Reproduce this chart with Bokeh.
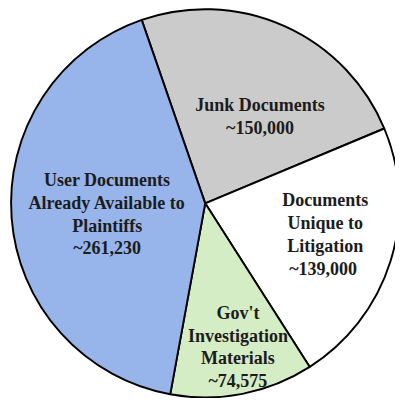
import math
from bokeh.plotting import figure
from bokeh.models import Range1d, ColumnDataSource
from bokeh.core.properties import value
from bokeh.embed import file_html
from bokeh.resources import INLINE

# ---- data ----
categories = ["Junk Documents", "Documents Unique to Litigation",
              "Gov't Investigation Materials", "User Documents Already Available to Plaintiffs"]
counts = [150000, 139000, 74575, 261230]
colors = ["#CBCBCB", "#FFFFFF", "#D5EDC5", "#97B5EA"]
label_lines = [
    ["Junk Documents", "~150,000"],
    ["Documents", "Unique to", "Litigation", " ~139,000"],
    ["Gov't", "Investigation", "Materials", "~74,575"],
    ["User Documents", "Already Available to", "Plaintiffs", "~261,230"],
]

# ---- layout: the figure shows the whole 411x414 reference frame, scaled ----
REF_W, REF_H = 411, 414
W, H = 395, 398
S = W / REF_W
cx, cy = 213, REF_H - 211
R = 202
start_deg = 109.1
# label anchors (x, y of first line, reference-frame coords) and line spacing
label_pos = [(270, 109), (338, 208), (247, 325), (111, 187)]
line_gap = 23.6

total = float(sum(counts))
starts, ends = [], []
a = math.radians(start_deg)
for c in counts:
    span = 2 * math.pi * c / total
    starts.append(a)
    ends.append(a - span)
    a -= span

p = figure(width=W, height=H, output_backend="svg", toolbar_location=None,
           x_range=Range1d(0, REF_W), y_range=Range1d(0, REF_H),
           min_border=0, outline_line_color=None)
p.axis.visible = False
p.grid.visible = False
p.background_fill_color = "white"
p.border_fill_color = "white"

src = ColumnDataSource(dict(start=starts, end=ends, color=colors, name=categories))
p.wedge(x=cx, y=cy, radius=R, start_angle="start", end_angle="end", direction="clock",
        fill_color="color", line_color="black", line_width=2 * S, source=src)

xs, ys, ts = [], [], []
for (lx, ly), lines in zip(label_pos, label_lines):
    for i, t in enumerate(lines):
        xs.append(lx)
        ys.append(REF_H - (ly + i * line_gap))
        ts.append(t)
p.text(x=xs, y=ys, text=ts, text_align="center", text_baseline="middle",
       text_font=value("Liberation Serif"), text_font_style="bold",
       text_font_size=f"{18.7 * S:.1f}px", text_color="#1c1c1c")

open("out.html", "w").write(file_html(p, INLINE))
